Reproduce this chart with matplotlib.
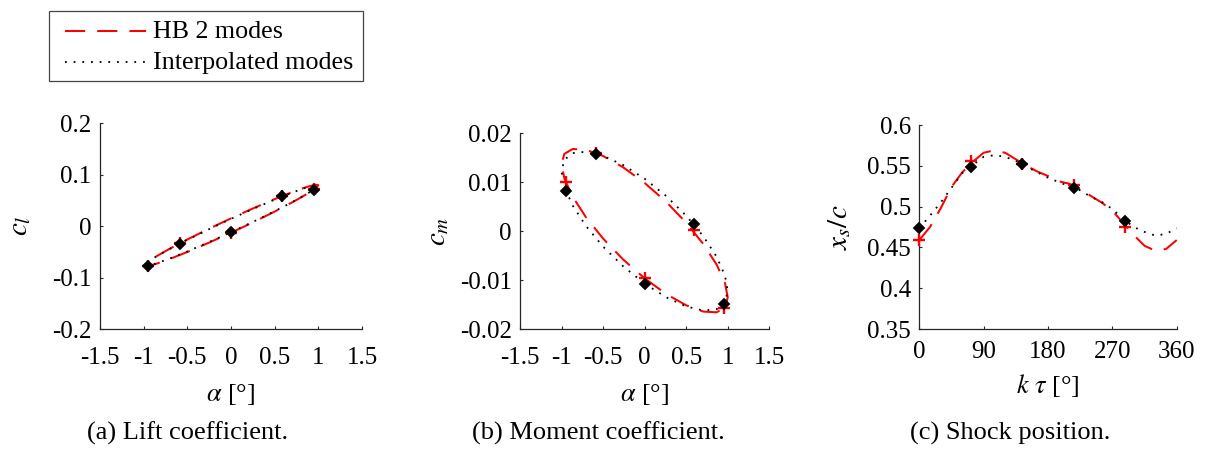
import matplotlib
matplotlib.use("Agg")
import matplotlib.pyplot as plt
from matplotlib.lines import Line2D
from matplotlib.patches import Rectangle

plt.rcParams["font.family"] = ["Liberation Serif", "DejaVu Serif"]
plt.rcParams["mathtext.fontset"] = "stix"
plt.rcParams["axes.unicode_minus"] = False
plt.rcParams["lines.scale_dashes"] = True

# Phase samples (deg) along one period, and the five HB time instances
phase = [0, 15, 30, 45, 60, 75, 90, 105, 120, 135, 150, 165, 180,
         195, 210, 225, 240, 255, 270, 285, 300, 315, 330, 345, 360]
phase_inst = [0, 72, 144, 216, 288]

# Pitch angle (deg) at the phase samples and at the time instances
alpha = [0.0, 0.259, 0.5, 0.707, 0.866, 0.966, 1.0, 0.966, 0.866, 0.707, 0.5, 0.259, 0.0,
         -0.259, -0.5, -0.707, -0.866, -0.966, -1.0, -0.966, -0.866, -0.707, -0.5, -0.259, 0.0]
alpha_inst = [0.0, 0.951, 0.588, -0.588, -0.951]

# Lift coefficient
cl_hb = [-0.0128, 0.0080, 0.0283, 0.0468, 0.0622, 0.0734, 0.0797, 0.0806, 0.0762,
         0.0666, 0.0526, 0.0350, 0.0152, -0.0056, -0.0259, -0.0444, -0.0598, -0.0710,
         -0.0773, -0.0782, -0.0738, -0.0642, -0.0502, -0.0326, -0.0128]
cl_interp = [-0.0118, 0.0089, 0.0290, 0.0473, 0.0624, 0.0734, 0.0794, 0.0801, 0.0754,
             0.0657, 0.0516, 0.0340, 0.0142, -0.0065, -0.0266, -0.0449, -0.0600, -0.0710,
             -0.0770, -0.0777, -0.0730, -0.0633, -0.0492, -0.0316, -0.0118]
cl_hb_inst = [-0.0135, 0.0715, 0.0587, -0.0320, -0.0778]
cl_interp_inst = [-0.0108, 0.0703, 0.0586, -0.0347, -0.0775]

# Moment coefficient
cm_hb = [-0.00965, -0.01285, -0.01516, -0.01644, -0.01659, -0.01560, -0.01354, -0.01056,
         -0.00683, -0.00266, 0.00172, 0.00599, 0.00985, 0.01305, 0.01536, 0.01664,
         0.01679, 0.01580, 0.01374, 0.01076, 0.00703, 0.00286, -0.00152, -0.00579, -0.00965]
cm_interp = [-0.01072, -0.01352, -0.01540, -0.01623, -0.01595, -0.01458, -0.01223, -0.00904,
             -0.00523, -0.00107, 0.00316, 0.00718, 0.01072, 0.01352, 0.01540, 0.01623,
             0.01595, 0.01458, 0.01223, 0.00904, 0.00523, 0.00107, -0.00316, -0.00718, -0.01072]
cm_hb_inst = [-0.0096, -0.0158, 0.0002, 0.0159, 0.0100]
cm_interp_inst = [-0.0108, -0.0149, 0.0014, 0.0158, 0.0083]

# Shock position
xs_hb = [0.459, 0.475, 0.498, 0.524, 0.542, 0.555, 0.566, 0.569, 0.566, 0.558, 0.550, 0.543,
         0.5375, 0.531, 0.528, 0.522, 0.513, 0.505, 0.495, 0.480, 0.465, 0.452, 0.446, 0.448, 0.459]
xs_interp = [0.4735, 0.489, 0.505, 0.523, 0.541, 0.551, 0.561, 0.563, 0.561, 0.556, 0.549,
             0.542, 0.5355, 0.530, 0.525, 0.520, 0.512, 0.506, 0.497, 0.485, 0.475, 0.469,
             0.4645, 0.4665, 0.4735]
xs_hb_inst = [0.4592, 0.5563, 0.5520, 0.5265, 0.4747]
xs_interp_inst = [0.4735, 0.5490, 0.5518, 0.5224, 0.4829]

legend_labels = ["HB 2 modes", "Interpolated modes"]
captions = ["(a) Lift coefficient.", "(b) Moment coefficient.", "(c) Shock position."]

W, H = 1206, 451
fig = plt.figure(figsize=(W / 100, H / 100), dpi=100)

RED = "#ff0000"
AX_COLOR = "#262626"
TICK_FS = 18
LABEL_FS = 19
CAP_FS = 19

hb_style = dict(color=RED, lw=1.45, dashes=(10, 6))
ip_style = dict(color="black", lw=1.3, dashes=(1, 3.8))


def fx(px):
    return px / W


def fy(py):
    return 1 - py / H


def px_axes(left, right, top, bottom):
    return fig.add_axes([fx(left), fy(bottom), (right - left) / W, (bottom - top) / H])


def style_axes(ax):
    for s in ("top", "right"):
        ax.spines[s].set_visible(False)
    for s in ("left", "bottom"):
        ax.spines[s].set_color(AX_COLOR)
        ax.spines[s].set_linewidth(0.9)
    ax.tick_params(direction="in", length=2.5, width=0.8, colors=AX_COLOR,
                   labelcolor="black", labelsize=TICK_FS)
    ax.tick_params(axis="x", pad=13)
    ax.tick_params(axis="y", pad=6)


def draw(ax, x, y_hb, y_ip, xi, yi_hb, yi_ip):
    ax.plot(x, y_hb, **hb_style, zorder=2, clip_on=False)
    ax.plot(x, y_ip, **ip_style, zorder=3, clip_on=False)
    ax.plot(xi, yi_hb, ls="none", marker="+", ms=8, mew=1.7, color=RED, zorder=4, clip_on=False)
    ax.plot(xi, yi_ip, ls="none", marker="D", ms=5.0, mew=1.3, color="black", zorder=5,
            clip_on=False)


# (a) lift
ax1 = px_axes(100, 362, 123.3, 329)
draw(ax1, alpha, cl_hb, cl_interp, alpha_inst, cl_hb_inst, cl_interp_inst)
ax1.set_xlim(-1.5, 1.5)
ax1.set_ylim(-0.2, 0.2)
ax1.set_xticks([-1.5, -1, -0.5, 0, 0.5, 1, 1.5])
ax1.set_xticklabels(["-1.5", "-1", "-0.5", "0", "0.5", "1", "1.5"])
ax1.set_yticks([-0.2, -0.1, 0, 0.1, 0.2])
ax1.set_yticklabels(["-0.2", "-0.1", "0", "0.1", "0.2"])
ax1.set_xlabel(r"$\alpha$ [°]", fontsize=LABEL_FS, labelpad=9)
ax1.set_ylabel(r"$c_l$", fontsize=LABEL_FS + 2, labelpad=14)
style_axes(ax1)

# (b) moment
ax2 = px_axes(520, 769.3, 133.3, 329)
draw(ax2, alpha, cm_hb, cm_interp, alpha_inst, cm_hb_inst, cm_interp_inst)
ax2.set_xlim(-1.5, 1.5)
ax2.set_ylim(-0.02, 0.02)
ax2.set_xticks([-1.5, -1, -0.5, 0, 0.5, 1, 1.5])
ax2.set_xticklabels(["-1.5", "-1", "-0.5", "0", "0.5", "1", "1.5"])
ax2.set_yticks([-0.02, -0.01, 0, 0.01, 0.02])
ax2.set_yticklabels(["-0.02", "-0.01", "0", "0.01", "0.02"])
ax2.set_xlabel(r"$\alpha$ [°]", fontsize=LABEL_FS, labelpad=9)
ax2.set_ylabel(r"$c_m$", fontsize=LABEL_FS + 2, labelpad=6)
style_axes(ax2)

# (c) shock position
ax3 = px_axes(919.3, 1176.7, 125, 329)
draw(ax3, phase, xs_hb, xs_interp, phase_inst, xs_hb_inst, xs_interp_inst)
ax3.set_xlim(0, 360)
ax3.set_ylim(0.35, 0.6)
ax3.set_xticks([0, 90, 180, 270, 360])
ax3.set_yticks([0.35, 0.4, 0.45, 0.5, 0.55, 0.6])
ax3.set_yticklabels(["0.35", "0.4", "0.45", "0.5", "0.55", "0.6"])
ax3.set_xlabel(r"$k\ \tau$ [°]", fontsize=LABEL_FS, labelpad=6)
ax3.set_ylabel(r"$x_s/c$", fontsize=LABEL_FS + 2, labelpad=10)
style_axes(ax3)
ax3.tick_params(axis="x", pad=9)

# Shared legend box above the panels
frame = Rectangle((fx(49), fy(80.7)), (363 - 49) / W, (80.7 - 10.7) / H,
                  transform=fig.transFigure, facecolor="white", edgecolor="#444444",
                  linewidth=0.9)
fig.add_artist(frame)
for row_y, style, label in ((31, hb_style, legend_labels[0]),
                            (62, ip_style, legend_labels[1])):
    fig.add_artist(Line2D([fx(65), fx(146)], [fy(row_y), fy(row_y)],
                          transform=fig.transFigure, **style))
    fig.text(fx(153), fy(row_y + 1), label, ha="left", va="center", fontsize=18.7)

# Sub-figure captions
cap_y = fy(433)
for cx, text in zip((188, 598, 1010), captions):
    fig.text(fx(cx), cap_y, text, ha="center", va="center", fontsize=CAP_FS)

fig.savefig("out.png", dpi=100)
